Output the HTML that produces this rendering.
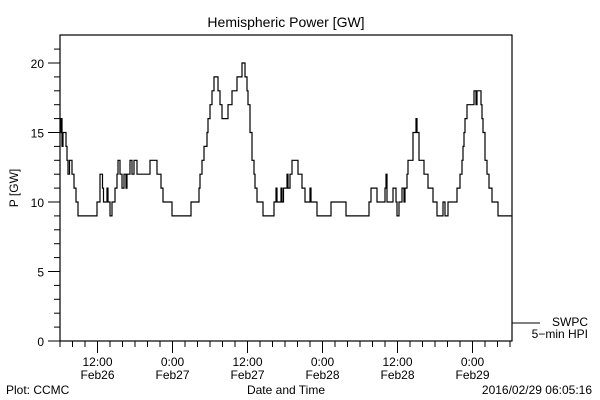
<!DOCTYPE html>
<html><head><meta charset="utf-8"><style>
html,body{margin:0;padding:0;background:#fff;}
svg{display:block;font-family:"Liberation Sans",sans-serif;}
</style></head><body>
<svg id="chart" width="600" height="400" viewBox="0 0 600 400">
<text x="286" y="27" font-size="14" text-anchor="middle">Hemispheric Power [GW]</text>
<rect x="60" y="35" width="452" height="306" fill="none" stroke="#000" stroke-width="1.2"/>
<g id="yaxis"></g>
<g id="xaxis"></g>
<text x="18" y="188" font-size="12" text-anchor="middle" transform="rotate(-90 18 188)">P [GW]</text>
<text x="286" y="394" font-size="12" text-anchor="middle">Date and Time</text>
<text x="6" y="394" font-size="12">Plot: CCMC</text>
<text x="592" y="394" font-size="12" text-anchor="end">2016/02/29 06:05:16</text>
<g>
<line x1="512" y1="323" x2="540" y2="323" stroke="#000"/>
<text x="588" y="326" font-size="12" text-anchor="end">SWPC</text>
<text x="588" y="338" font-size="12" text-anchor="end">5−min HPI</text>
</g>
<path id="series" fill="none" stroke="#000" stroke-width="1.2"/>
</svg>
<script>
// hours since Feb26 06:00 and power values (GW), step series
const hours=[0,.16,.32,.48,.96,1.12,1.28,1.52,1.92,2.24,2.56,2.88,5.92,6.4,6.8,6.96,7.52,7.68,8,8.32,8.8,9.12,9.28,9.6,9.92,10.24,10.56,10.72,11.2,11.52,11.84,12.32,14.4,15.52,16.16,16.48,17.92,20.96,22.24,22.4,22.72,23.04,23.52,23.68,24,24.32,24.64,25.28,25.6,25.92,26.88,27.52,28.32,29.12,29.6,29.92,30.08,30.4,30.72,31.04,31.2,31.52,32.48,34.24,34.56,34.72,35.36,35.52,35.76,36.32,36.48,36.8,37.12,38.08,38.72,39.2,40,40.16,41.12,43.36,45.76,49.44,49.76,50.72,52,52.16,52.32,53.28,53.76,53.92,54.24,54.72,55.04,55.2,55.52,55.68,56.48,56.96,57.12,57.44,58.24,58.88,59.68,60.32,61.28,61.6,62.08,63.52,64,64.32,64.48,64.64,64.8,65.12,66.24,66.56,66.72,67.36,67.52,67.68,68,68.32,68.64,69.12,70.08];
const power=[15,16,14,15,14,13,12,13,12,11,10,9,10,12,11,10,11,10,9,10,11,12,13,12,11,12,11,12,13,12,13,12,13,12,11,10,9,10,11,12,13,14,15,16,17,18,19,18,17,16,17,18,19,20,19,18,17,15,13,12,11,10,9,10,11,10,11,10,11,12,11,12,13,12,11,10,11,10,9,10,9,10,11,10,11,12,10,11,10,9,10,11,10,11,12,13,15,16,15,13,12,11,10,9,10,9,10,11,12,13,14,15,16,17,18,17,18,17,16,15,13,12,11,10,9];
const endHour=72.3;
const yTicks=[0,5,10,15,20];
const xTickLabels=[["12:00","Feb26"],["0:00","Feb27"],["12:00","Feb27"],["0:00","Feb28"],["12:00","Feb28"],["0:00","Feb29"]];
const xTickHours=[6,18,30,42,54,66];

const X=h=>60+h*6.25;
const Y=v=>341-v*13.9;
const NS="http://www.w3.org/2000/svg";
function mk(tag,attrs,parent){const e=document.createElementNS(NS,tag);for(const k in attrs)e.setAttribute(k,attrs[k]);parent.appendChild(e);return e;}
const ya=document.getElementById('yaxis');
for(let v=0;v<=21;v++){
  const major=v%5===0;
  const t=mk('line',{x1:major?48:54,x2:60,y1:Y(v),y2:Y(v),stroke:'#000'},ya);
  
  
}
yTicks.forEach(v=>{
  const t=mk('text',{x:44,y:Y(v)+5,'font-size':12,'text-anchor':'end'},ya);
  t.textContent=v;
  
  
});
const xa=document.getElementById('xaxis');
for(let h=0;h<=72;h+=2){
  const major=xTickHours.includes(h);
  const t=mk('line',{x1:X(h),x2:X(h),y1:341,y2:major?353:347,stroke:'#000'},xa);
  
  
}
xTickHours.forEach((h,i)=>{
  const t=mk('text',{x:X(h),y:366,'font-size':12,'text-anchor':'middle'},xa);
  t.textContent=xTickLabels[i][0];
  
  
  const d=mk('text',{x:X(h),y:379,'font-size':12,'text-anchor':'middle'},xa);
  d.textContent=xTickLabels[i][1];
  
  
});
let d='M'+X(hours[0])+','+Y(power[0]);
for(let i=1;i<hours.length;i++){d+=' H'+X(hours[i])+' V'+Y(power[i]);}
d+=' H'+X(endHour);
document.getElementById('series').setAttribute('d',d);
</script>
</body></html>
